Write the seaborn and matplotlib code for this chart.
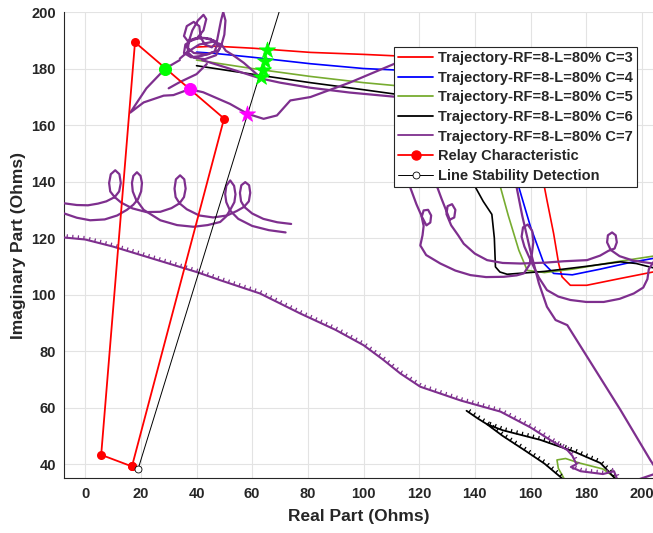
import numpy as np
import pandas as pd
import matplotlib
matplotlib.use("Agg")
import matplotlib.pyplot as plt
from matplotlib import patheffects as pe
from matplotlib.lines import Line2D
import seaborn as sns

# ---------------- data ----------------
relay_re = [16.8, 49.9, 17.9, 5.75, 16.8]
relay_im = [39.2, 162.3, 189.3, 43.3, 39.2]

lsd_re = [19.05, 75.0]
lsd_im = [38.4, 217.0]

c3_re = [40, 46.7, 60, 81, 100, 111, 130, 145, 155, 161, 165, 165.9, 168.3, 170.1, 171.3, 174.3, 180.2, 192.2, 204]
c3_im = [187.6, 187.9, 187.2, 185.7, 185.0, 184.5, 182, 177, 168, 155, 138, 133.4, 121.6, 111, 106.3, 103.3, 103.3, 105.7, 108]

c4_re = [40, 46, 60, 80.9, 100, 111, 130, 145, 152, 155.8, 160, 164.8, 168.3, 175, 185, 195, 204]
c4_im = [185.8, 185.4, 184, 181.7, 180, 179.5, 176, 168, 155, 138, 124, 111, 107.5, 107, 109, 111.2, 112.8]

c5_re = [40, 50, 60, 80.9, 100, 111, 125, 138, 145, 149.2, 152, 155.8, 158.8, 165, 175, 190, 204]
c5_im = [183, 181.5, 180, 177.2, 175, 174, 170, 160, 148, 138, 128, 115.7, 108.6, 107.8, 109, 111.5, 113.6]

c6_re = [40, 50, 60, 80.9, 100, 111, 125, 133, 138, 140.2, 143, 146.1, 147, 147.4, 149, 151.6, 165, 180, 192.3, 198, 204]
c6_im = [181, 179.5, 178, 175, 172.5, 171, 166, 155, 145, 138, 133, 128.4, 120, 109.8, 108, 107.2, 108.2, 110, 111.6, 111.0, 109.5]
c6_tail_a_re = [137, 141, 144.4, 150, 157.6, 165, 171.3]
c6_tail_a_im = [58.9, 56.2, 54.1, 50.0, 45.1, 40.2, 35.0]
c6_tail_b_re = [144.4, 150, 163.5, 175.5, 185.1, 187.5, 190.3]
c6_tail_b_im = [54.1, 52.0, 48.6, 44.5, 40.4, 38.0, 35.0]

c5_tail_re = [172, 170, 169.5, 172.6, 177.6, 186, 190.7]
c5_tail_im = [35, 38.5, 41.5, 42, 40.4, 38.3, 35]

# C=7 (many pieces)
c7_cluster_re = [34, 37, 41, 46, 49, 48, 44, 39, 36.5, 37.5, 41, 45, 47.5, 46.5, 42, 38, 35.5, 36, 39, 43,
                 46.5, 48.5, 47, 43, 39, 36.8, 37.2, 38.5, 40.5, 42.5, 43.5, 42.5, 40, 37, 35.5, 36.5, 39,
                 41, 41.5, 43, 45.5, 47.3, 48, 48.8, 49.6, 50.4, 50, 49, 50.5, 53, 57, 62.9]
c7_cluster_im = [183.5, 186, 188.5, 189.5, 188.5, 186.5, 185, 185.5, 187.5, 190, 191, 190.5, 188.7, 186,
                 184.5, 184, 185.5, 188.5, 190.5, 190.8, 189.8, 187.5, 184.7, 183.3, 183.8, 185.8, 189.5,
                 193.5, 197, 199, 197.5, 193.5, 190.5, 189.5, 191.5, 195, 196.5, 195, 191, 188.5, 187.5,
                 189.5, 193, 197, 200, 197, 192, 188.5, 186.3, 184.8, 182, 176.9]
c7_a_re = [34, 28.8, 22, 16.2, 21, 28.2, 31.7, 37.5, 42.4, 52, 58.3, 64.1, 68.9, 73.7, 80.9, 95, 111.4,
           125, 140, 150, 154, 155, 157, 159.9, 163, 165.9, 169, 173.2, 192.3, 203, 206, 194]
c7_a_im = [183, 180, 173, 164.4, 168, 170.4, 170.6, 172.7, 171.6, 167.5, 164, 162.2, 163.4, 168.7, 169.9,
           175, 181.8, 184, 180, 165, 150, 138, 128, 115.7, 104, 95.7, 91, 89.2, 59.2, 41.5, 37, 33]
c7_b_re = [43.7, 40, 34, 30]
c7_b_im = [181.6, 178, 175.2, 173]
c7_c_re = [42, 55, 63, 70, 80.9, 95, 111.4]
c7_c_im = [183, 179, 176.5, 175, 173.2, 171.5, 170]

c7_loopA_re = [-7.5, -3, 1, 4.6, 7.6, 10.6, 12.2, 12.8, 12.3, 10.8, 9.2, 8.6, 9.0, 10.6, 13, 17, 22, 27, 31,
               33.9, 35.5, 36.1, 35.6, 34.1, 32.6, 32.1, 32.5, 33.9, 36.5, 41, 46, 51, 54.5, 57.0, 58.8,
               59.3, 58.9, 57.5, 56.1, 55.6, 56.0, 57.2, 60, 64, 69, 74]
c7_loopA_im = [132.3, 131.7, 131.6, 132.2, 133.0, 134.5, 136.5, 139.5, 142.6, 144.0, 142.6, 139.5, 136.5,
               134.5, 132.5, 130.5, 129.2, 129.3, 130.6, 132.3, 134.5, 137.5, 140.8, 142.2, 140.8, 137.5,
               134.5, 132.3, 130.2, 128.0, 127.3, 128.0, 129.6, 131.0, 133.0, 136.0, 138.7, 139.8, 138.7,
               136.0, 133.0, 131.0, 128.7, 126.8, 125.6, 125.0]
c7_loopB_re = [-7.5, -3, 1.8, 7, 11.5, 15, 17.3, 19.0, 20.1, 20.4, 19.9, 18.6, 17.3, 16.8, 17.1, 18.2, 21,
               27, 33, 38.9, 44, 48.5, 50.6, 52.0, 53.6, 54.0, 53.5, 52.1, 50.7, 50.3, 50.7, 52.0, 55, 60,
               66, 72]
c7_loopB_im = [128.7, 127.2, 126.3, 126.6, 128.0, 130.0, 131.8, 133.8, 136.5, 139.5, 142.0, 143.3, 142.0,
               139.5, 136.5, 133.8, 130.0, 126.3, 124.6, 124.0, 124.6, 125.7, 127.6, 129.8, 132.7, 135.5,
               138.5, 140.4, 138.5, 135.5, 132.7, 129.8, 126.8, 124.3, 122.8, 122.0]

c7_d_re = [116, 119, 121, 122.6, 124.0, 124.3, 123.2, 121.6, 120.9, 121.6, 121.2, 120.4, 122.5, 127.6, 133,
           138.4, 144, 150.4, 155, 157.6, 159.6, 160.5, 161, 160.6, 159, 157.3, 156.8, 157.8, 160, 163,
           165.9, 170, 174.3, 180, 186.3, 192, 197.1, 200.5, 202, 202.5, 204.5]
c7_d_im = [140, 132, 127.5, 124.5, 125.5, 128.0, 130.0, 129.8, 127.5, 124.3, 121, 117.4, 114, 111, 108.5,
           106.9, 106.2, 106.3, 106.8, 107.5, 110.5, 114.5, 118.5, 122.5, 124.8, 123.8, 120.5, 117, 112.2,
           106, 101.6, 99.3, 98.1, 97.4, 97.4, 98.5, 100.4, 102.5, 105.5, 109, 112]
c7_e_re = [125, 128, 129.8, 131, 132.6, 133, 131.8, 130.2, 129.8, 131.5, 134, 136, 140, 144.4, 150, 156.4,
           165, 172, 180.3, 185, 188, 190.2, 191, 190.6, 189.3, 187.8, 187.5, 188.8, 192, 197, 204]
c7_e_im = [142, 134, 129.5, 126.5, 127.3, 130, 132, 131.3, 128.5, 124.5, 121, 118, 114.5, 112.2, 111.2, 111,
           111.3, 111.8, 112.2, 113.8, 115.5, 116.3, 118.5, 121, 122, 121, 118.5, 115.8, 113.6, 112, 111]

c7_ripple_re = [-7.5, 0, 10, 20, 30, 40, 48.5, 62.8, 77.3, 90, 100, 107, 113.2, 120.4, 135, 149.2, 160, 167,
                173.2, 175, 176.5, 174.5, 178, 186, 190, 191]
c7_ripple_im = [120.2, 119.5, 117, 114, 111, 108, 105.1, 100.4, 93.3, 87.5, 82.1, 77, 72.1, 67.4, 62.5, 58.6,
                53, 48.6, 45, 43, 40, 39, 37.5, 36.5, 37.5, 35]

cross_green_re = [65.5, 64.6, 63.9, 63.1]
cross_green_im = [186.6, 182.8, 179.3, 176.9]
cross_mag_re = [58.3]
cross_mag_im = [164.0]
relay_hit_green = (28.8, 180.0)
relay_hit_mag = (37.5, 172.7)

xticks = list(range(0, 201, 20))
yticks = list(range(40, 201, 20))

# ---------------- styling ----------------
RED, BLUE, GREEN, BLACK, PURPLE = "#FF0000", "#0000FF", "#77AC30", "#000000", "#7E2F8E"
sns.set_theme(style="white")
plt.rcParams["font.family"] = ["Liberation Sans", "DejaVu Sans"]
plt.rcParams["font.weight"] = "bold"

fig = plt.figure(figsize=(6.53, 5.33), dpi=100)
ax = fig.add_axes([64.3 / 653, 1 - 478.3 / 533, (653 - 64.3) / 653, (478.3 - 12) / 533])


def path(x, y, color, lw=1.2, z=2, **kw):
    sns.lineplot(x=x, y=y, sort=False, estimator=None, color=color, linewidth=lw,
                 ax=ax, legend=False, zorder=z, **kw)


ripple = [pe.withTickedStroke(spacing=4.0, angle=90, length=0.55, linewidth=0.9)]

path(c3_re, c3_im, RED)
path(c4_re, c4_im, BLUE)
path(c5_re, c5_im, GREEN)
path(c5_tail_re, c5_tail_im, GREEN)
path(c6_re, c6_im, BLACK)
path(c6_tail_a_re, c6_tail_a_im, BLACK, lw=1.3, path_effects=ripple)
path(c6_tail_b_re, c6_tail_b_im, BLACK, lw=1.3, path_effects=ripple)

for xs, ys in [(c7_cluster_re, c7_cluster_im), (c7_a_re, c7_a_im), (c7_b_re, c7_b_im),
               (c7_c_re, c7_c_im), (c7_loopA_re, c7_loopA_im), (c7_loopB_re, c7_loopB_im),
               (c7_d_re, c7_d_im), (c7_e_re, c7_e_im)]:
    path(xs, ys, PURPLE, lw=1.6, z=3)
path(c7_ripple_re, c7_ripple_im, PURPLE, lw=1.5, z=3, path_effects=ripple)

path(relay_re, relay_im, RED, lw=1.3, z=4, marker="o", markersize=6.5, markeredgewidth=0)
path(lsd_re, lsd_im, BLACK, lw=0.7, z=4, marker="o", markersize=5, markevery=[0],
     markerfacecolor="white", markeredgecolor="black", markeredgewidth=0.6)

sns.scatterplot(x=cross_green_re, y=cross_green_im, marker="*", s=150, color="#00FF00",
                edgecolor="#00FF00", linewidth=0.5, ax=ax, zorder=6, legend=False)
sns.scatterplot(x=cross_mag_re, y=cross_mag_im, marker="*", s=150, color="#FF00FF",
                edgecolor="#FF00FF", linewidth=0.5, ax=ax, zorder=6, legend=False)
sns.scatterplot(x=[relay_hit_green[0]], y=[relay_hit_green[1]], marker="o", s=75, color="#00FF00",
                edgecolor="#00FF00", ax=ax, zorder=6, legend=False)
sns.scatterplot(x=[relay_hit_mag[0]], y=[relay_hit_mag[1]], marker="o", s=75, color="#FF00FF",
                edgecolor="#FF00FF", ax=ax, zorder=6, legend=False)

ax.set_xlim(-7.5, 204)
ax.set_ylim(35, 200)
ax.set_xticks(xticks)
ax.set_yticks(yticks)
ax.grid(True, color="#E3E3E3", linewidth=0.8)
ax.set_axisbelow(True)
for s in ["top", "right"]:
    ax.spines[s].set_visible(False)
for s in ["left", "bottom"]:
    ax.spines[s].set_color("#262626")
    ax.spines[s].set_linewidth(0.8)
ax.tick_params(direction="in", length=4, width=0.8, color="#262626", labelsize=10.5,
               labelcolor="#262626", pad=6)
for lab in ax.get_xticklabels() + ax.get_yticklabels():
    lab.set_fontweight("bold")
ax.set_xlabel("Real Part (Ohms)", fontsize=12.5, fontweight="bold", color="#262626", labelpad=6)
ax.set_ylabel("Imaginary Part (Ohms)", fontsize=12.5, fontweight="bold", color="#262626", labelpad=4)

handles = [
    Line2D([], [], color=RED, lw=1.3, label="Trajectory-RF=8-L=80% C=3"),
    Line2D([], [], color=BLUE, lw=1.3, label="Trajectory-RF=8-L=80% C=4"),
    Line2D([], [], color=GREEN, lw=1.3, label="Trajectory-RF=8-L=80% C=5"),
    Line2D([], [], color=BLACK, lw=1.3, label="Trajectory-RF=8-L=80% C=6"),
    Line2D([], [], color=PURPLE, lw=1.3, label="Trajectory-RF=8-L=80% C=7"),
    Line2D([], [], color=RED, lw=1.3, marker="o", markersize=6.5, label="Relay Characteristic"),
    Line2D([], [], color=BLACK, lw=0.7, marker="o", markersize=5, markerfacecolor="white",
           markeredgewidth=0.6, label="Line Stability Detection"),
]
leg = ax.legend(handles=handles, loc="upper right", bbox_to_anchor=((637 - 64.3) / 588.7, 1 - 35 / 466.3),
                borderaxespad=0, frameon=True, fancybox=False, framealpha=1, edgecolor="#262626",
                prop={"weight": "bold", "size": 10.5}, handlelength=2.4, handletextpad=0.3,
                labelspacing=0.38, borderpad=0.3)
leg.get_frame().set_linewidth(0.8)
leg.set_zorder(10)

fig.savefig("out.png", dpi=100)
